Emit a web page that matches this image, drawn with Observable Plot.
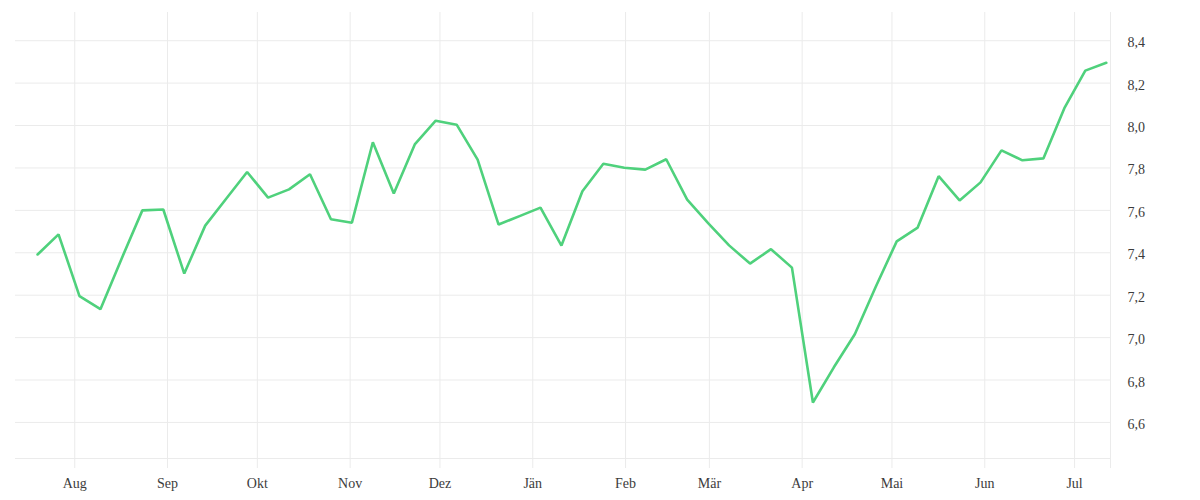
<!DOCTYPE html>
<html>
<head>
<meta charset="utf-8">
<script src="https://cdn.jsdelivr.net/npm/d3@7"></script>
<script src="https://cdn.jsdelivr.net/npm/@observablehq/plot@0.6"></script>
<style>
  html, body { margin: 0; padding: 0; background: #fff; }
  #chart { width: 1200px; height: 500px; }
</style>
</head>
<body>
<div id="chart"></div>
<script>
const dates = [
  "2022-07-19","2022-07-26","2022-08-02","2022-08-09","2022-08-16","2022-08-23","2022-08-30",
  "2022-09-06","2022-09-13","2022-09-20","2022-09-27","2022-10-04","2022-10-11","2022-10-18",
  "2022-10-25","2022-11-01","2022-11-08","2022-11-15","2022-11-22","2022-11-29","2022-12-06",
  "2022-12-13","2022-12-20","2022-12-27","2023-01-03","2023-01-10","2023-01-17","2023-01-24",
  "2023-01-31","2023-02-07","2023-02-14","2023-02-21","2023-02-28","2023-03-07","2023-03-14",
  "2023-03-21","2023-03-28","2023-04-04","2023-04-11","2023-04-18","2023-04-25","2023-05-02",
  "2023-05-09","2023-05-16","2023-05-23","2023-05-30","2023-06-06","2023-06-13","2023-06-20",
  "2023-06-27","2023-07-04","2023-07-11"
];
const values = [
  7.392, 7.487, 7.196, 7.134, 7.37, 7.600, 7.604,
  7.302, 7.528, 7.655, 7.781, 7.660, 7.699, 7.770,
  7.558, 7.542, 7.921, 7.679, 7.911, 8.023, 8.004,
  7.839, 7.533, 7.573, 7.613, 7.434, 7.690, 7.820,
  7.801, 7.792, 7.841, 7.651, 7.54, 7.435, 7.349,
  7.417, 7.330, 6.694, 6.86, 7.016, 7.24, 7.454,
  7.519, 7.761, 7.647, 7.732, 7.883, 7.836, 7.845,
  8.082, 8.259, 8.296
];
const monthTicks = [
  "2022-08-01","2022-09-01","2022-10-01","2022-11-01","2022-12-01","2023-01-01",
  "2023-02-01","2023-03-01","2023-04-01","2023-05-01","2023-06-01","2023-07-01"
];
const monthLabels = ["Aug","Sep","Okt","Nov","Dez","Jän","Feb","Mär","Apr","Mai","Jun","Jul"];
const yTicks = [6.6, 6.8, 7.0, 7.2, 7.4, 7.6, 7.8, 8.0, 8.2, 8.4];
const xDomain = ["2022-07-12T05:00:00Z", "2023-07-13T00:00:00Z"];
const yDomain = [6.43, 8.533];

const data = dates.map((d, i) => ({date: new Date(d + "T14:00:00Z"), value: values[i]}));
const monthDates = monthTicks.map(d => new Date(d));
const xDom = xDomain.map(d => new Date(d));
const labelMap = new Map(monthDates.map((d, i) => [+d, monthLabels[i]]));
const xTickAll = [...monthDates, xDom[1]];

const gridColor = "#ebebeb";
const textColor = "#3c3c3c";

const chart = Plot.plot({
  width: 1200,
  height: 500,
  marginLeft: 15,
  marginRight: 90,
  marginTop: 12,
  marginBottom: 42,
  style: {
    fontFamily: "'Liberation Serif', serif",
    fontSize: "14px",
    color: textColor,
    background: "#fff"
  },
  x: {type: "utc", domain: xDom},
  y: {domain: yDomain},
  marks: [
    Plot.gridX({ticks: xTickAll, stroke: gridColor, strokeOpacity: 1, strokeWidth: 1}),
    Plot.gridY({ticks: yTicks, stroke: gridColor, strokeOpacity: 1, strokeWidth: 1}),
    Plot.ruleY([yDomain[0]], {stroke: gridColor, strokeWidth: 1}),
    Plot.axisX({
      ticks: xTickAll,
      tickSize: 10,
      tickPadding: 10,
      stroke: gridColor,
      fill: textColor,
      tickFormat: d => labelMap.get(+d) ?? "",
      label: null
    }),
    Plot.axisY({
      anchor: "right",
      ticks: yTicks,
      tickSize: 0,
      tickPadding: 17,
      textAnchor: "start",
      dy: 2,
      fill: textColor,
      tickFormat: d => d.toFixed(1).replace(".", ","),
      label: null
    }),
    Plot.lineY(data, {x: "date", y: "value", stroke: "#4fd17c", strokeWidth: 2.6, strokeLinejoin: "miter"})
  ]
});
document.getElementById("chart").appendChild(chart);
</script>
</body>
</html>
